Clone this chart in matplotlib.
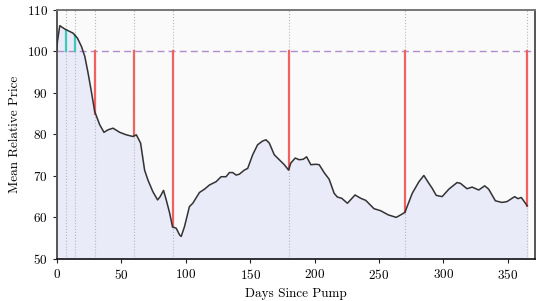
import matplotlib
matplotlib.use('Agg')
import matplotlib.pyplot as plt
import numpy as np

plt.rcParams['font.family'] = 'serif'
plt.rcParams['font.serif'] = ['cmr10']
plt.rcParams['axes.formatter.use_mathtext'] = True
plt.rcParams['mathtext.fontset'] = 'cm'

#%% data
days = [0, 0.5, 2.3, 6.2, 12.6, 16, 19.1, 21.7, 24.3, 26.8, 29.4, 33.3, 36.6, 39.7,
        43.6, 48.8, 53.9, 59, 61.7, 65, 68.1, 70.7, 74.5, 78.2, 80.2, 82.8, 84.9,
        87.5, 89.8, 92.6, 95.2, 96.5, 99.1, 102.9, 105.5, 110.7, 114.6, 118.4, 123.6,
        127.5, 131.3, 133.9, 136.5, 139.1, 141.6, 145.5, 148.1, 152, 155.8, 159.7,
        162.3, 164.9, 168.7, 172.6, 176.5, 179.8, 181.6, 185, 188, 191.2, 193.8,
        197.1, 201, 203.6, 207.4, 211.3, 215.2, 217.7, 221.1, 225.5, 231.4, 235.8,
        239.7, 246.1, 251.3, 257.2, 263.4, 266.8, 270.1, 275.8, 281, 284.8, 288.7,
        291.3, 294.4, 299, 304.2, 310.6, 313.2, 318.3, 322.2, 327.4, 332, 335.1,
        340.3, 345.4, 349.3, 355.3, 357.8, 360.4, 365]
price = [100.3, 102.4, 106.2, 105.4, 104.4, 103.2, 101.2, 98.8, 94.7, 90.3, 85.5, 82.3,
         80.5, 81.1, 81.5, 80.5, 79.9, 79.5, 79.9, 77.9, 71.4, 69.0, 66.2, 64.2, 65.0,
         66.5, 64.2, 61.1, 57.7, 57.4, 55.8, 55.4, 57.8, 62.6, 63.4, 66.0, 66.8, 67.8,
         68.6, 69.8, 69.8, 70.8, 70.8, 70.2, 70.4, 71.4, 71.8, 75.1, 77.5, 78.4, 78.7,
         77.9, 75.1, 73.9, 72.7, 71.4, 73.1, 74.3, 73.9, 74.0, 74.6, 72.7, 72.8, 72.7,
         70.8, 69.2, 65.8, 64.9, 64.6, 63.4, 65.4, 64.6, 64.1, 62.1, 61.6, 60.6, 60.0,
         60.6, 61.2, 65.8, 68.6, 70.1, 68.2, 67.0, 65.3, 65.0, 66.8, 68.4, 68.2, 66.9,
         67.3, 66.6, 67.6, 66.8, 64.0, 63.6, 63.8, 65.0, 64.5, 64.8, 62.8]
marks = [7, 14, 30, 60, 90, 180, 270, 365]
baseline = 100

days = np.array(days)
price = np.array(price)

#%%
fig = plt.figure(figsize=(5.36, 3.01), dpi=100)
ax = fig.add_axes([0.106, 0.140, 0.892, 0.827])
ax.set_facecolor('#fafafa')

ax.fill_between(days, 50, price, color='#e9ebf9', zorder=1)
ax.plot(days, price, color='#333333', linewidth=1.1, zorder=4)
ax.axhline(baseline, color='#b08ccc', linewidth=1.0, linestyle=(0, (5, 3)), zorder=2)

for d in marks:
    p = np.interp(d, days, price)
    ax.axvline(d, color='#b8b8b8', linewidth=0.8, linestyle=':', zorder=2)
    if p < baseline:
        ax.plot([d, d], [p, baseline], color='#f06262', linewidth=1.6, zorder=3)
    else:
        ax.plot([d, d], [baseline, p], color='#3cc9b5', linewidth=1.6, zorder=3)

ax.set_xlim(0, 371)
ax.set_ylim(50, 110)
ax.set_xticks([0, 50, 100, 150, 200, 250, 300, 350])
ax.set_yticks([50, 60, 70, 80, 90, 100, 110])
ax.set_xlabel('Days Since Pump', fontsize=9.5)
ax.set_ylabel('Mean Relative Price', fontsize=9.5)
ax.tick_params(labelsize=9.5, length=3, color='#222222')

for s in ['left', 'right']:
    ax.spines[s].set_color('#555555')
    ax.spines[s].set_linewidth(1.4)
ax.spines['top'].set_color('#777777')
ax.spines['top'].set_linewidth(1.4)
ax.spines['bottom'].set_color('#111111')
ax.spines['bottom'].set_linewidth(1.2)

plt.savefig('out.png', dpi=100)
